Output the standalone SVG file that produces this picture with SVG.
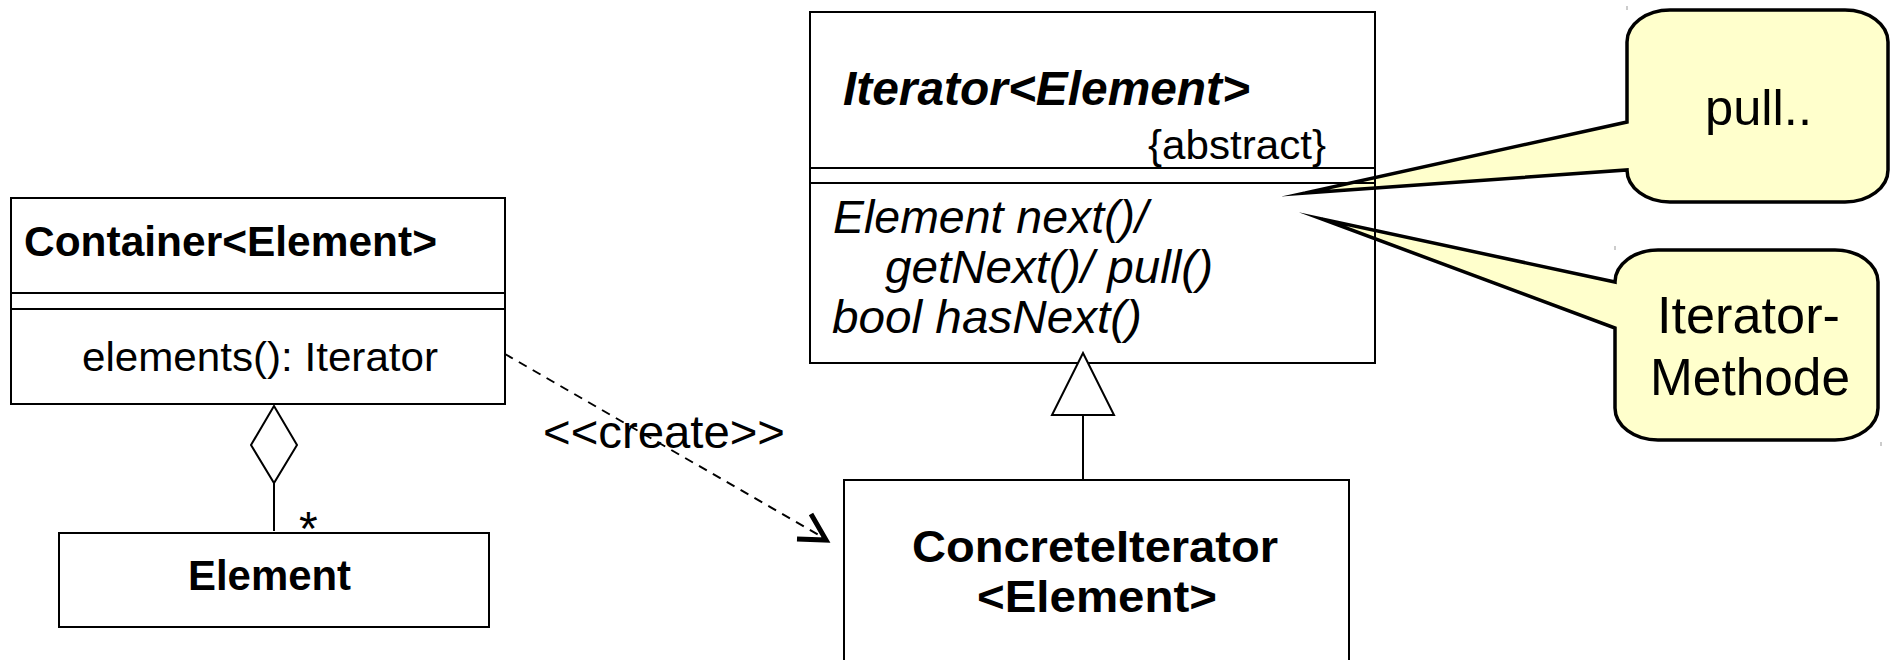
<svg xmlns="http://www.w3.org/2000/svg" width="1890" height="660" viewBox="0 0 1890 660">
  <style>
    text { font-family: "Liberation Sans", Arial, sans-serif; fill: #000; }
    .box { fill: #fff; stroke: #000; stroke-width: 2; }
    .open { fill: none; stroke: #000; stroke-width: 2; }
    .sep { stroke: #000; stroke-width: 2; }
    .bold { font-weight: bold; }
    .ital { font-style: italic; }
    .note { fill: #ffffcc; stroke: #000; stroke-width: 3.5; stroke-linejoin: miter; stroke-miterlimit: 20; }
    .tick { stroke: #999; stroke-width: 1; }
    .dash { fill: none; stroke: #000; stroke-width: 2; stroke-dasharray: 9 7; }
  </style>

  <!-- notes attached to the iterator methods -->
  <g id="note-pull">
    <path class="note" d="M1670,10 H1845 A43,32 0 0 1 1888,42 V170 A43,32 0 0 1 1845,202 H1670 A43,32 0 0 1 1627,170 L1305,193 L1627,122 V42 A43,32 0 0 1 1670,10 Z"/>
    <line class="tick" x1="1627" y1="6" x2="1627" y2="10"/>
    <text x="1705" y="125" font-size="50" textLength="107" lengthAdjust="spacingAndGlyphs">pull..</text>
  </g>

  <g id="note-method">
    <path class="note" d="M1658,250 H1835 A43,32 0 0 1 1878,282 V408 A43,32 0 0 1 1835,440 H1658 A43,32 0 0 1 1615,408 V328 L1322,219 L1615,282 A43,32 0 0 1 1658,250 Z"/>
    <line class="tick" x1="1615" y1="246" x2="1615" y2="250"/>
    <line class="tick" x1="1881" y1="442" x2="1881" y2="446"/>
    <text x="1657" y="333" font-size="52" textLength="183" lengthAdjust="spacingAndGlyphs">Iterator-</text>
    <text x="1650" y="395" font-size="52" textLength="200" lengthAdjust="spacingAndGlyphs">Methode</text>
  </g>

  <!-- Container class -->
  <g id="container">
    <rect class="box" x="11" y="198" width="494" height="206"/>
    <line class="sep" x1="11" y1="293" x2="505" y2="293"/>
    <line class="sep" x1="11" y1="309" x2="505" y2="309"/>
    <text class="bold" x="24" y="256" font-size="42" textLength="413" lengthAdjust="spacingAndGlyphs">Container&lt;Element&gt;</text>
    <text x="82" y="371" font-size="41" textLength="356" lengthAdjust="spacingAndGlyphs">elements(): Iterator</text>
  </g>

  <!-- Element class -->
  <g id="element">
    <rect class="box" x="59" y="533" width="430" height="94"/>
    <text class="bold" x="188" y="590" font-size="42" textLength="163" lengthAdjust="spacingAndGlyphs">Element</text>
  </g>

  <!-- abstract Iterator class -->
  <g id="iterator">
    <rect class="open" x="810" y="12" width="565" height="351"/>
    <line class="sep" x1="810" y1="168" x2="1375" y2="168"/>
    <line class="sep" x1="810" y1="183" x2="1375" y2="183"/>
    <text class="bold ital" x="843" y="105" font-size="48" textLength="407" lengthAdjust="spacingAndGlyphs">Iterator&lt;Element&gt;</text>
    <text x="1148" y="159" font-size="41" textLength="178" lengthAdjust="spacingAndGlyphs">{abstract}</text>
    <text class="ital" x="833" y="233" font-size="46" textLength="315" lengthAdjust="spacingAndGlyphs">Element next()/</text>
    <text class="ital" x="885" y="283" font-size="46" textLength="328" lengthAdjust="spacingAndGlyphs">getNext()/ pull()</text>
    <text class="ital" x="832" y="333" font-size="46" textLength="310" lengthAdjust="spacingAndGlyphs">bool hasNext()</text>
  </g>

  <!-- ConcreteIterator class -->
  <g id="concrete-iterator">
    <rect class="box" x="844" y="480" width="505" height="200"/>
    <text class="bold" x="912" y="562" font-size="45" textLength="366" lengthAdjust="spacingAndGlyphs">ConcreteIterator</text>
    <text class="bold" x="977" y="612" font-size="45" textLength="240" lengthAdjust="spacingAndGlyphs">&lt;Element&gt;</text>
  </g>

  <!-- relations -->
  <g id="connectors">
    <!-- aggregation Container <>- Element -->
    <line class="sep" x1="274" y1="483" x2="274" y2="531"/>
    <polygon class="box" points="274,406 297,445 274,483 251,445"/>
    <text x="299" y="545" font-size="48">*</text>

    <!-- generalization ConcreteIterator -> Iterator -->
    <line class="sep" x1="1083" y1="415" x2="1083" y2="480"/>
    <polygon class="box" points="1083,353 1114,415 1052,415"/>

    <!-- create dependency -->
    <line class="dash" x1="505" y1="354" x2="822" y2="537"/>
    <polyline fill="none" stroke="#000" stroke-width="5" stroke-linejoin="miter" stroke-miterlimit="10" points="811,514 826,540 797,539"/>
    <text x="543" y="448" font-size="47" textLength="242" lengthAdjust="spacingAndGlyphs">&lt;&lt;create&gt;&gt;</text>
  </g>
</svg>
